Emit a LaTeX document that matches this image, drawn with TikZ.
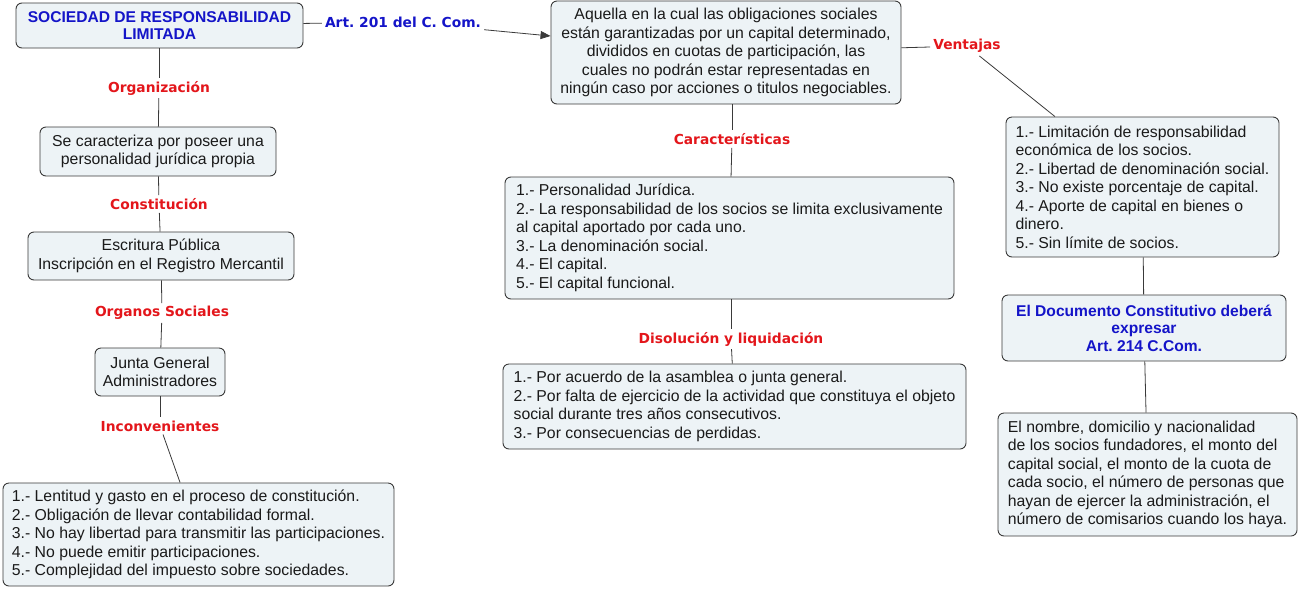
\documentclass[tikz,border=0pt]{standalone}
\usepackage{fontspec}
\setmainfont{Liberation Sans}
\newfontfamily\verd{DejaVu Sans}
\usetikzlibrary{arrows.meta}
\frenchspacing
\definecolor{boxfill}{HTML}{EDF3F6}
\definecolor{boxline}{HTML}{3A3A3A}
\definecolor{txt}{HTML}{1A1A1A}
\definecolor{lblred}{HTML}{E3161B}
\definecolor{lblblue}{HTML}{1414C8}
\tikzset{
  box/.style={draw=boxline, fill=boxfill, rounded corners=6pt, line width=0.9pt,
    font=\fontsize{15.8}{18.5}\selectfont, text=txt, inner ysep=0pt, inner xsep=2pt},
  titlebox/.style={box, font=\bfseries\fontsize{15.6}{17.5}\selectfont, text=lblblue},
  lbl/.style={font=\verd\bfseries\fontsize{13.8}{15}\selectfont, text=lblred, inner sep=3pt},
  bluelbl/.style={lbl, text=lblblue},
  conn/.style={draw=boxline, line width=0.8pt},
}
\begin{document}
\begin{tikzpicture}[x=1pt,y=-1pt]
\useasboundingbox (0,0) rectangle (1299,590);
% boxes
\node[titlebox, minimum width=287pt, minimum height=45pt, align=center] (root) at (159.5,25.5)
  {SOCIEDAD DE RESPONSABILIDAD\\LIMITADA};
\node[box, minimum width=350pt, minimum height=103pt, align=center] (def) at (726,52.5)
  {Aquella en la cual las obligaciones sociales\\están garantizadas por un capital determinado,\\divididos en cuotas de participación, las\\cuales no podrán estar representadas en\\ningún caso por acciones o titulos negociables.};
\node[box, minimum width=236pt, minimum height=49pt, align=center] (carac1) at (158,151.5)
  {Se caracteriza por poseer una\\personalidad jurídica propia};
\node[box, minimum width=266pt, minimum height=48pt, align=center] (escr) at (161,256)
  {Escritura Pública\\Inscripción en el Registro Mercantil};
\node[box, minimum width=130pt, minimum height=48pt, align=center] (junta) at (160,372)
  {Junta General\\Administradores};
\node[box, minimum width=391pt, minimum height=103pt, align=left] (incon) at (198.5,534.5)
  {1.- Lentitud y gasto en el proceso de constitución.\\2.- Obligación de llevar contabilidad formal.\\3.- No hay libertad para transmitir las participaciones.\\4.- No puede emitir participaciones.\\5.- Complejidad del impuesto sobre sociedades.};
\node[box, minimum width=449pt, minimum height=122pt, align=left] (carac) at (729.5,238)
  {1.- Personalidad Jurídica.\\2.- La responsabilidad de los socios se limita exclusivamente\\al capital aportado por cada uno.\\3.- La denominación social.\\4.- El capital.\\5.- El capital funcional.};
\node[box, minimum width=463pt, minimum height=85pt, align=left] (disol) at (734.5,406.5)
  {1.- Por acuerdo de la asamblea o junta general.\\2.- Por falta de ejercicio de la actividad que constituya el objeto\\social durante tres años consecutivos.\\3.- Por consecuencias de perdidas.};
\node[box, minimum width=273pt, minimum height=140pt, align=left] (vent) at (1142.5,187)
  {1.- Limitación de responsabilidad\\económica de los socios.\\2.- Libertad de denominación social.\\3.- No existe porcentaje de capital.\\4.- Aporte de capital en bienes o\\dinero.\\5.- Sin límite de socios.};
\node[titlebox, minimum width=284pt, minimum height=66pt, align=center] (doc) at (1144,328)
  {El Documento Constitutivo deberá\\expresar\\Art. 214 C.Com.};
\node[box, minimum width=299pt, minimum height=123pt, align=left] (nomb) at (1147.5,474.5)
  {El nombre, domicilio y nacionalidad\\de los socios fundadores, el monto del\\capital social, el monto de la cuota de\\cada socio, el número de personas que\\hayan de ejercer la administración, el\\número de comisarios cuando los haya.};
% labels
\node[bluelbl] (art) at (403,22) {Art. 201 del C. Com.};
\node[lbl] (lorg) at (159,88) {Organización};
\node[lbl] (lcons) at (159,204) {Constitución};
\node[lbl] (lorgs) at (162,313) {Organos Sociales};
\node[lbl] (linc) at (160,426) {Inconvenientes};
\node[lbl] (lvent) at (967,46) {Ventajas};
\node[lbl] (lcar) at (732,139) {Características};
\node[lbl] (ldis) at (731,339) {Disolución y liquidación};
% connectors
\draw[conn] (root) -- (art);
\draw[conn, -{Triangle[length=10pt,width=8pt]}] (art) -- (def);
\draw[conn] (root.south -| lorg) -- (lorg);
\draw[conn] (lorg) -- (carac1);
\draw[conn] (carac1) -- (lcons);
\draw[conn] (lcons) -- (escr);
\draw[conn] (escr) -- (lorgs);
\draw[conn] (lorgs) -- (junta);
\draw[conn] (junta) -- (linc);
\draw[conn] (linc) -- (incon);
\draw[conn] (def) -- (lvent);
\draw[conn] (lvent) -- (vent);
\draw[conn] (def.south -| lcar) -- (lcar);
\draw[conn] (lcar) -- (carac);
\draw[conn] (carac.south -| ldis) -- (ldis);
\draw[conn] (ldis) -- (disol);
\draw[conn] (vent) -- (doc);
\draw[conn] (doc) -- (nomb);
\end{tikzpicture}
\end{document}
